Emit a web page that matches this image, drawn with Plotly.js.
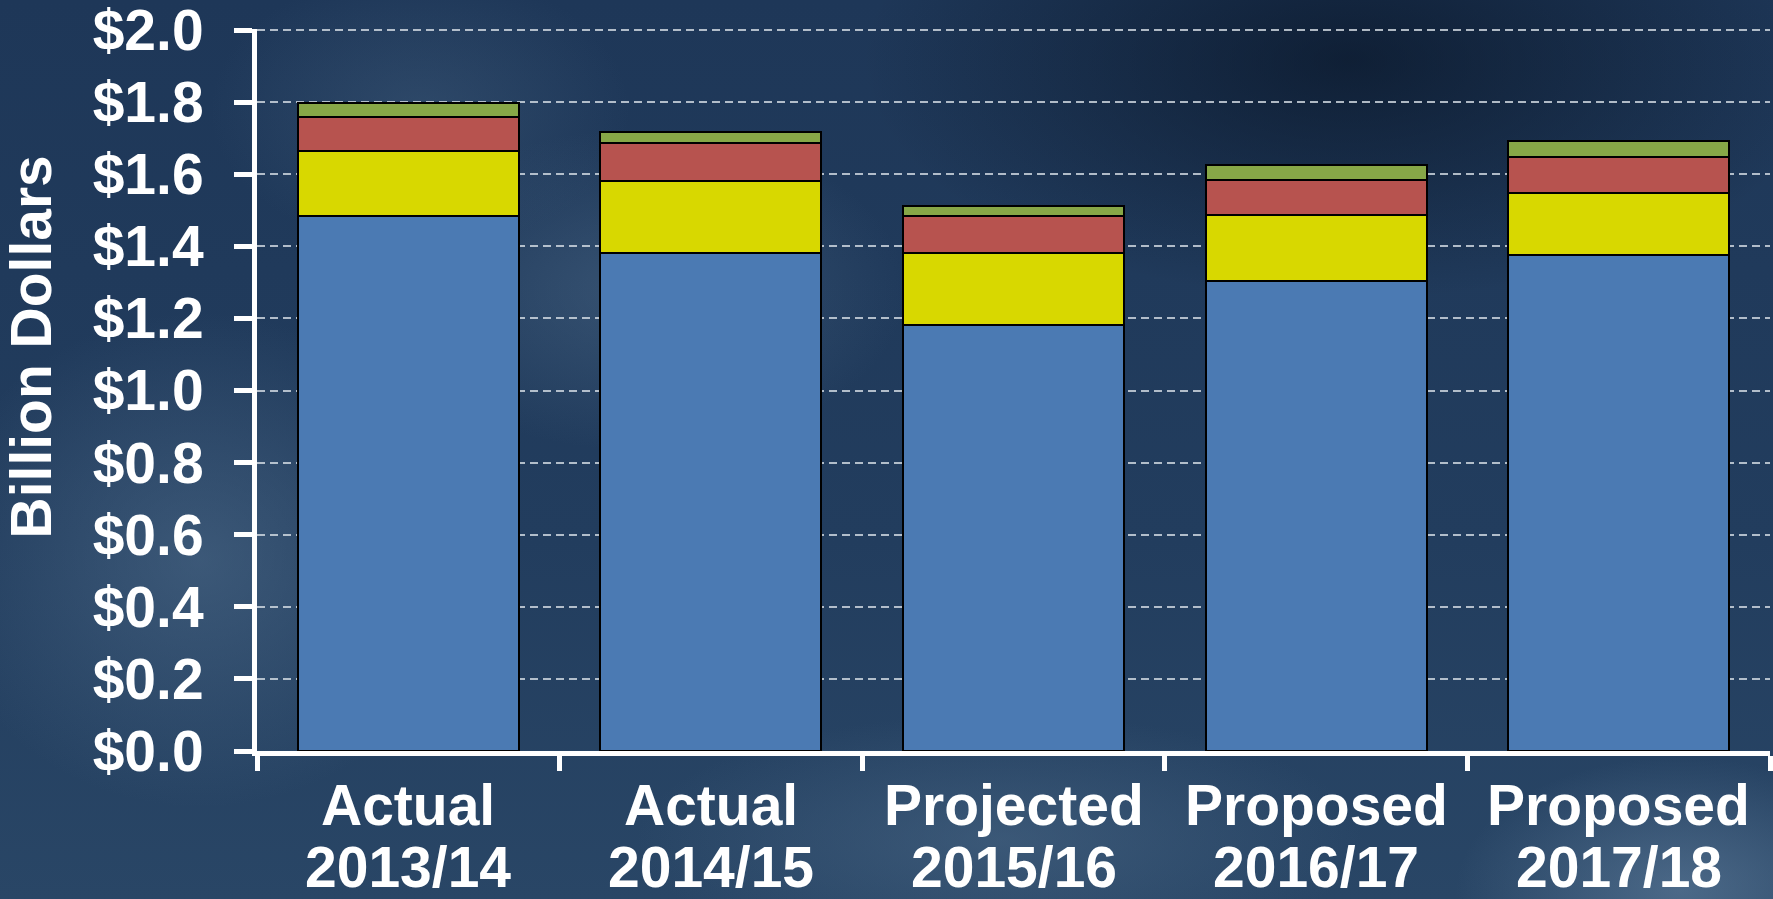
<!DOCTYPE html>
<html>
<head>
<meta charset="utf-8">
<script src="https://cdn.plot.ly/plotly-3.0.1.min.js"></script>
<style>
html, body { margin: 0; padding: 0; width: 1773px; height: 899px; overflow: hidden; }
body {
  background:
    radial-gradient(ellipse 360px 330px at 200px 560px, rgba(85,115,145,0.5), rgba(85,115,145,0) 75%),
    radial-gradient(ellipse 380px 230px at 640px 290px, rgba(85,115,145,0.42), rgba(85,115,145,0) 70%),
    radial-gradient(ellipse 300px 200px at 420px 110px, rgba(80,110,140,0.3), rgba(80,110,140,0) 70%),
    radial-gradient(ellipse 520px 180px at 1000px 840px, rgba(85,115,145,0.42), rgba(85,115,145,0) 70%),
    radial-gradient(ellipse 320px 190px at 1680px 890px, rgba(110,140,170,0.5), rgba(110,140,170,0) 70%),
    radial-gradient(ellipse 650px 320px at 1350px 60px, rgba(5,15,30,0.6), rgba(5,15,30,0) 75%),
    linear-gradient(180deg, #1e3758 0%, #223d5e 60%, #294666 100%);
}
#chart { width: 1773px; height: 899px; }
</style>
</head>
<body>
<div id="chart"></div>
<script>
const categories = ["Actual 2013/14", "Actual 2014/15", "Projected 2015/16", "Proposed 2016/17", "Proposed 2017/18"];
const labelTop = ["Actual", "Actual", "Projected", "Proposed", "Proposed"];
const labelBottom = ["2013/14", "2014/15", "2015/16", "2016/17", "2017/18"];
const blueValues = [1.483, 1.382, 1.182, 1.305, 1.375];
const yellowValues = [0.182, 0.200, 0.200, 0.183, 0.173];
const redValues = [0.095, 0.105, 0.101, 0.097, 0.099];
const greenValues = [0.038, 0.031, 0.030, 0.041, 0.045];
const yTickVals = [0, 0.2, 0.4, 0.6, 0.8, 1.0, 1.2, 1.4, 1.6, 1.8, 2.0];
const yTickText = ["$0.0", "$0.2", "$0.4", "$0.6", "$0.8", "$1.0", "$1.2", "$1.4", "$1.6", "$1.8", "$2.0"];
const yTitle = "Billion Dollars";

const FONT = "Liberation Sans, Arial, sans-serif";
const FS = 57;
const outline = { color: "#000000", width: 2 };

function barTrace(vals, color) {
  return {
    type: "bar", x: categories, y: vals,
    marker: { color: color, line: outline },
    hoverinfo: "skip", showlegend: false
  };
}

const data = [
  barTrace(blueValues, "#4b7ab3"),
  barTrace(yellowValues, "#d8d800"),
  barTrace(redValues, "#b7534f"),
  barTrace(greenValues, "#87a747")
];

const annotations = [];
categories.forEach((c, i) => {
  annotations.push({ x: c, xref: "x", y: 0, yref: "paper", yanchor: "middle", yshift: -54,
    text: labelTop[i], showarrow: false, font: { family: FONT, size: FS, color: "#ffffff", weight: 700 } });
  annotations.push({ x: c, xref: "x", y: 0, yref: "paper", yanchor: "middle", yshift: -116,
    text: labelBottom[i], showarrow: false, font: { family: FONT, size: FS, color: "#ffffff", weight: 700 } });
});
annotations.push({ x: 0, xref: "paper", xshift: -226, xanchor: "center", y: 0.559, yref: "paper", yanchor: "middle",
  text: yTitle, textangle: -90, showarrow: false, font: { family: FONT, size: FS, color: "#ffffff", weight: 700 } });

const layout = {
  width: 1773, height: 899,
  margin: { l: 257, r: 3, t: 29, b: 148 },
  paper_bgcolor: "rgba(0,0,0,0)",
  plot_bgcolor: "rgba(0,0,0,0)",
  barmode: "stack",
  bargap: 0.27,
  showlegend: false,
  xaxis: {
    type: "category", range: [-0.5, 4.5],
    showline: true, linecolor: "#ffffff", linewidth: 5,
    ticks: "outside", tickson: "boundaries", ticklen: 15, tickwidth: 5, tickcolor: "#ffffff",
    showticklabels: false, showgrid: false, zeroline: false, fixedrange: true
  },
  yaxis: {
    range: [0, 2.003],
    tickvals: yTickVals, ticktext: yTickText,
    showline: true, linecolor: "#ffffff", linewidth: 5,
    ticks: "outside", ticklen: 18, tickwidth: 5, tickcolor: "#ffffff",
    ticklabelstandoff: 19, ticklabeloverflow: "allow",
    tickfont: { family: FONT, size: FS, color: "#ffffff", weight: 700 },
    showgrid: true, gridcolor: "rgba(215,222,230,0.8)", gridwidth: 2, griddash: "8px,5px",
    zeroline: false, fixedrange: true
  },
  annotations: annotations
};

Plotly.newPlot("chart", data, layout, { displayModeBar: false, staticPlot: true });
</script>
</body>
</html>
